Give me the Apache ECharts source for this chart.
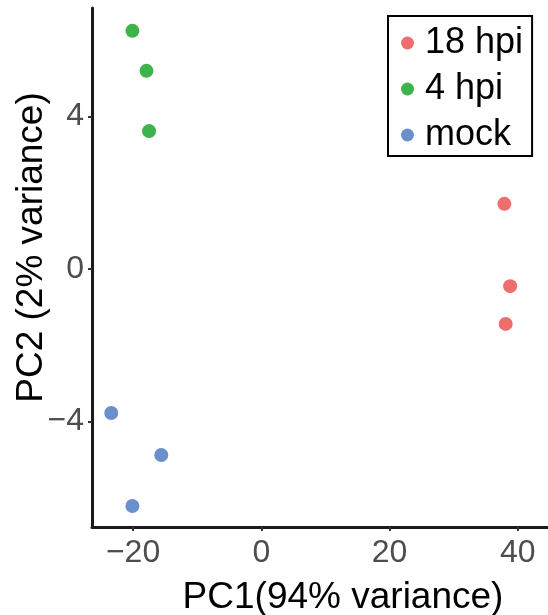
<!DOCTYPE html>
<html>
<head>
<meta charset="utf-8">
<script src="https://cdn.jsdelivr.net/npm/echarts@6/dist/echarts.min.js"></script>
<style>html,body{margin:0;padding:0;background:#fff}#c{width:548px;height:615px}</style>
</head>
<body>
<div id="c"></div>
<script>
var groups = ['18 hpi', '4 hpi', 'mock'];
var pc1_18hpi = [37.9, 38.8, 38.1];
var pc2_18hpi = [1.71, -0.45, -1.44];
var pc1_4hpi = [-20.1, -17.9, -17.5];
var pc2_4hpi = [6.25, 5.2, 3.62];
var pc1_mock = [-23.4, -15.6, -20.1];
var pc2_mock = [-3.78, -4.88, -6.22];
var xTicks = [-20, 0, 20, 40];
var yTicks = [-4, 0, 4];

var colors = ['#EE6E6E', '#3DB34B', '#6B8FCB'];
function pairs(xs, ys) { return xs.map(function (x, i) { return [x, ys[i]]; }); }
var seriesData = [pairs(pc1_18hpi, pc2_18hpi), pairs(pc1_4hpi, pc2_4hpi), pairs(pc1_mock, pc2_mock)];
function fmt(v) { return String(v).replace('-', '\u2212'); }

var chart = echarts.init(document.getElementById('c'), null, {renderer: 'canvas'});
var font = '"Liberation Sans", Arial, sans-serif';
chart.setOption({
  animation: false,
  backgroundColor: '#ffffff',
  textStyle: {fontFamily: font},
  grid: {left: 92, top: 8, right: 0, bottom: 88, outerBoundsMode: 'none', containLabel: false},
  legend: {
    show: true,
    orient: 'vertical',
    left: 388, top: 16,
    padding: [9, 9, 3, 13],
    borderColor: '#000', borderWidth: 2, backgroundColor: '#fff',
    itemWidth: 13, itemHeight: 13, itemGap: 10, icon: 'circle',
    textStyle: {fontSize: 36, color: '#000', fontFamily: font, padding: [0, 0, 0, 6]},
    data: groups
  },
  xAxis: {
    type: 'value', min: -26.4, max: 44.7,
    name: 'PC1(94% variance)', nameLocation: 'middle', nameGap: 52,
    nameTextStyle: {fontSize: 37, color: '#000', fontFamily: font, padding: [0, 0, 0, 46]},
    axisLine: {show: true, onZero: false, lineStyle: {color: '#1a1a1a', width: 3}},
    axisTick: {show: true, length: 4, lineStyle: {color: '#333', width: 2}, customValues: xTicks},
    axisLabel: {fontSize: 32, color: '#4d4d4d', margin: 10, fontFamily: font, customValues: xTicks, formatter: fmt},
    splitLine: {show: false}
  },
  yAxis: {
    type: 'value', min: -6.77, max: 6.85,
    name: 'PC2 (2% variance)', nameLocation: 'middle', nameGap: 42, nameMoveOverlap: false,
    nameTextStyle: {fontSize: 37, color: '#000', fontFamily: font, padding: [0, 0, 0, 40]},
    axisLine: {show: true, onZero: false, lineStyle: {color: '#1a1a1a', width: 3}},
    axisTick: {show: true, length: 4, lineStyle: {color: '#333', width: 2}, customValues: yTicks},
    axisLabel: {fontSize: 32, color: '#4d4d4d', margin: 8, fontFamily: font, customValues: yTicks, formatter: fmt},
    splitLine: {show: false}
  },
  series: groups.map(function (g, i) {
    return {
      name: g, type: 'scatter', data: seriesData[i], symbol: 'circle', symbolSize: 14,
      itemStyle: {color: colors[i], opacity: 1}
    };
  })
});
</script>
</body>
</html>
